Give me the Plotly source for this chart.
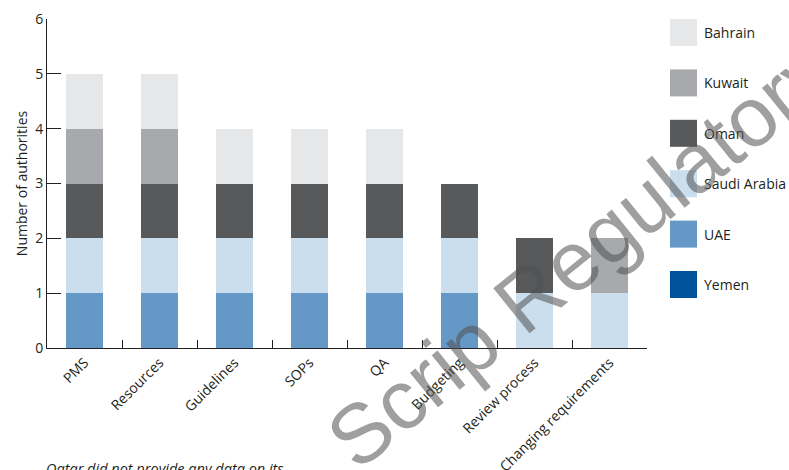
import plotly.graph_objects as go

categories = ["PMS", "Resources", "Guidelines", "SOPs", "QA", "Budgeting",
              "Review process", "Changing requirements"]

# stacking order bottom -> top
yemen = [0, 0, 0, 0, 0, 0, 0, 0]
uae = [1, 1, 1, 1, 1, 1, 0, 0]
saudi = [1, 1, 1, 1, 1, 1, 1, 1]
oman = [1, 1, 1, 1, 1, 1, 1, 0]
kuwait = [1, 1, 0, 0, 0, 0, 0, 1]
bahrain = [1, 1, 1, 1, 1, 0, 0, 0]

series_names = ["Yemen", "UAE", "Saudi Arabia", "Oman", "Kuwait", "Bahrain"]
series_values = [yemen, uae, saudi, oman, kuwait, bahrain]
series_colors = ["#00529b", "#6598c6", "#cadeed", "#58595b", "#a7a9ac", "#e6e7e8"]

y_ticks = [0, 1, 2, 3, 4, 5, 6]
y_title = "Number of authorities"
note_text = "Qatar did not provide any data on its"
watermark = "Scrip Regulatory"

FONT = "Open Sans"
AX = "#231f20"

W, H = 789, 470
ML, MR, MT, MB = 47, 142, 19, 122
PW = W - ML - MR
PH = H - MT - MB


def px_x(x):
    return (x - ML) / PW


def px_y(y):
    return (H - MB - y) / PH


fig = go.Figure()
for name, vals, col in zip(series_names, series_values, series_colors):
    fig.add_trace(go.Bar(x=categories, y=vals, name=name, marker_color=col,
                         marker_line_width=0, showlegend=False))

fig.update_layout(
    barmode="stack",
    bargap=0.505,
    width=W, height=H,
    margin=dict(l=ML, r=MR, t=MT, b=MB, autoexpand=False),
    paper_bgcolor="white", plot_bgcolor="white",
    font=dict(family=FONT, size=14, color=AX),
)
fig.update_xaxes(
    showline=True, linecolor=AX, linewidth=1,
    ticks="inside", tickson="boundaries", ticklen=8, tickcolor=AX, tickwidth=1,
    tickangle=-45, tickfont=dict(size=14, family=FONT, color=AX),
    showgrid=False, zeroline=False, automargin=False,
)
fig.update_yaxes(
    range=[0, 6], tickvals=y_ticks, showline=True, linecolor=AX, linewidth=1,
    ticks="inside", ticklen=14, tickcolor=AX, tickwidth=1,
    tickfont=dict(size=14, family=FONT, color=AX),
    showgrid=False, zeroline=False, automargin=False,
    title=dict(text=y_title, font=dict(size=14, family=FONT, color=AX), standoff=4),
)

# legend (drawn manually for large swatches)
legend_centers = [32.5, 82.9, 133.3, 183.7, 234.1, 284.5]
for i, (name, col) in enumerate(zip(series_names[::-1], series_colors[::-1])):
    cy = legend_centers[i]
    fig.add_shape(type="rect", xref="paper", yref="paper",
                  x0=px_x(670), x1=px_x(697), y0=px_y(cy + 13.5), y1=px_y(cy - 13.5),
                  fillcolor=col, line_width=0)
    fig.add_annotation(xref="paper", yref="paper", x=px_x(702), y=px_y(cy),
                       text=name, showarrow=False, xanchor="left", yanchor="middle",
                       font=dict(size=14, family=FONT, color=AX))

fig.add_annotation(xref="paper", yref="paper", x=px_x(44), y=px_y(457),
                   text="<i>" + note_text + "</i>", showarrow=False,
                   xanchor="left", yanchor="top",
                   font=dict(size=14.5, family=FONT, color=AX))

fig.add_annotation(xref="paper", yref="paper", x=px_x(580), y=px_y(255),
                   text=watermark, showarrow=False, textangle=-39,
                   xanchor="center", yanchor="middle",
                   font=dict(size=84, family="Liberation Sans", color="rgba(80,80,80,0.55)"))

fig.write_html("out.html")
